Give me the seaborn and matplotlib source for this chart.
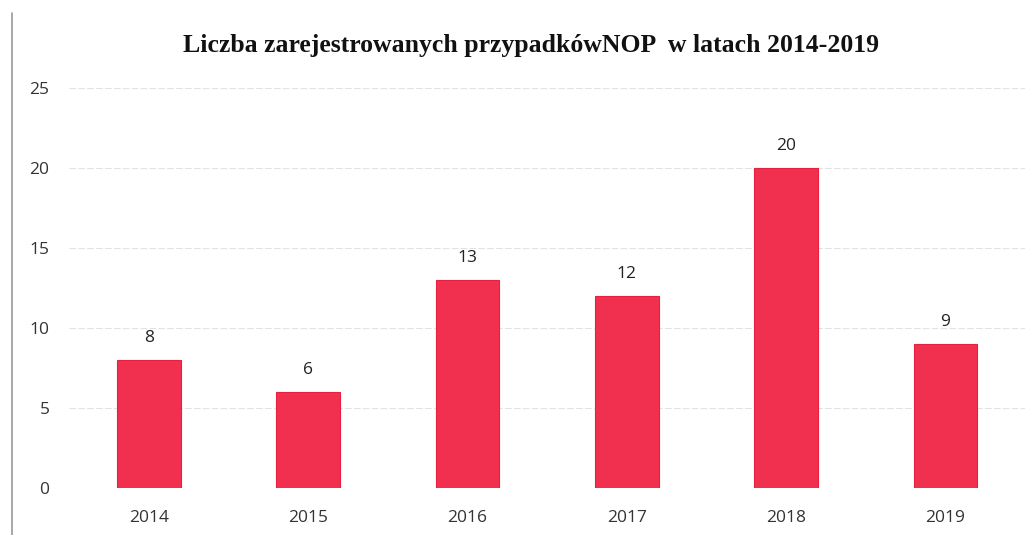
import matplotlib
matplotlib.use("Agg")
import matplotlib.pyplot as plt
import seaborn as sns
import pandas as pd
from matplotlib.lines import Line2D

years = ["2014", "2015", "2016", "2017", "2018", "2019"]
cases = [8, 6, 13, 12, 20, 9]
yticks = [0, 5, 10, 15, 20, 25]
title = "Liczba zarejestrowanych przypadkówNOP  w latach 2014-2019"

sns.set_theme(style="white")
plt.rcParams['font.family'] = ['Open Sans', 'DejaVu Sans']

df = pd.DataFrame({"year": years, "cases": cases})

fig = plt.figure(figsize=(10.35, 5.35), dpi=100)
ax = fig.add_axes([0.0667, 0.088, 0.9237, 0.748])

sns.barplot(data=df, x="year", y="cases", color="#f0304e", width=0.4,
            saturation=1, edgecolor="#e8203f", linewidth=0.8, ax=ax)

ax.set_ylim(0, 25)
ax.set_yticks(yticks)
ax.set_yticklabels([str(t) for t in yticks], fontsize=12.5, color="#333333")
ax.tick_params(axis="x", labelsize=12.5, labelcolor="#333333", length=0, pad=16)
ax.tick_params(axis="y", length=0, pad=14)
ax.yaxis.grid(True, color="#e2e2e2", linewidth=0.8, linestyle=(0, (6, 2)))
ax.set_axisbelow(True)
for s in ax.spines.values():
    s.set_visible(False)
ax.set_xlabel("")
ax.set_ylabel("")

for i, v in enumerate(cases):
    ax.annotate(str(v), (i, v), xytext=(0, 10), textcoords="offset points",
                ha="center", va="bottom", fontsize=12.5, color="#222222")

fig.text(0.513, 0.915, title, ha="center", va="center", fontsize=18.5,
         fontweight="bold", family=["Liberation Serif", "DejaVu Serif"], color="#111111")

fig.add_artist(Line2D([0.0115, 0.0115], [0.0, 0.975], color="#999999", linewidth=1.2,
                      transform=fig.transFigure))

fig.savefig("out.png", dpi=100, facecolor="white")
